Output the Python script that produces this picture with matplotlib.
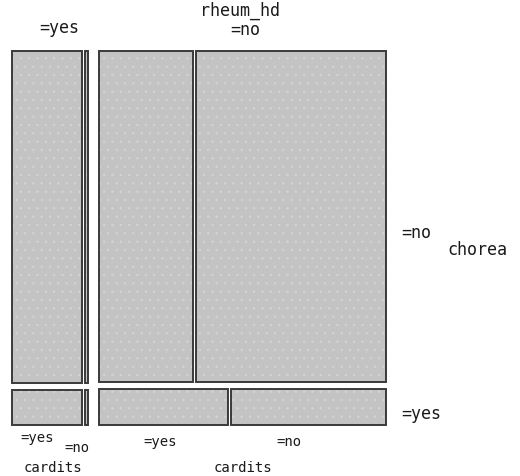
import matplotlib.pyplot as plt
from matplotlib.patches import Rectangle

plt.rcParams['hatch.linewidth'] = 0.5
plt.rcParams['font.family'] = ['DejaVu Sans Mono']

# counts: rheum_hd -> chorea -> cardits
rheum_levels = ['yes', 'no']
chorea_levels = ['no', 'yes']
cardits_levels = ['yes', 'no']
counts = {
    'yes': {'no': [182, 8], 'yes': [19, 1]},
    'no': {'no': [235, 478], 'yes': [35, 42]},
}

fig = plt.figure(figsize=(5.2, 4.77), dpi=100)
ax = fig.add_axes([0, 0, 1, 1])
ax.set_xlim(0, 520)
ax.set_ylim(477, 0)
ax.axis('off')

# plotting region in pixels and gaps between tiles
x0, x1, y0, y1 = 12, 386, 52, 426
gap_r, gap_c, gap_k = 11, 7, 3

fill = '#c3c3c3'
edge = '#3a3a3a'


def tile(x, y, w, h):
    ax.add_patch(Rectangle((x, y), w, h, facecolor=fill, edgecolor='#d4d4d4',
                           hatch='..', linewidth=0))
    ax.add_patch(Rectangle((x, y), w, h, fill=False, edgecolor=edge, linewidth=1.4))


total = sum(sum(sum(v) for v in counts[r].values()) for r in rheum_levels)
avail_w = (x1 - x0) - gap_r * (len(rheum_levels) - 1)
avail_h = (y1 - y0) - gap_c * (len(chorea_levels) - 1)

xr = x0
for r in rheum_levels:
    n_r = sum(sum(v) for v in counts[r].values())
    wr = avail_w * n_r / total
    yc = y0
    for c in chorea_levels:
        n_c = sum(counts[r][c])
        hc = avail_h * n_c / n_r
        wk_avail = wr - gap_k * (len(cardits_levels) - 1)
        xk = xr
        for k, n_k in zip(cardits_levels, counts[r][c]):
            wk = wk_avail * n_k / n_c
            tile(xk, yc, wk, hc)
            xk += wk + gap_k
        yc += hc + gap_c
    xr += wr + gap_r

txt = dict(color='#1a1a1a', fontsize=12, va='center')
small = dict(color='#1a1a1a', fontsize=10, va='center', ha='center')

# top labels: rheum_hd
ax.text(59, 28, '=yes', ha='center', **txt)
ax.text(240, 11, 'rheum_hd', ha='center', **txt)
ax.text(245, 30, '=no', ha='center', **txt)

# right labels: chorea
ax.text(401, 233, '=no', ha='left', **txt)
ax.text(447, 250, 'chorea', ha='left', **txt)
ax.text(401, 414, '=yes', ha='left', **txt)

# bottom labels: cardits
ax.text(37, 438, '=yes', **small)
ax.text(77, 448, '=no', **small)
ax.text(160, 442, '=yes', **small)
ax.text(289, 442, '=no', **small)
ax.text(53, 468, 'cardits', **small)
ax.text(243, 468, 'cardits', **small)

plt.savefig('out.png', dpi=100)
